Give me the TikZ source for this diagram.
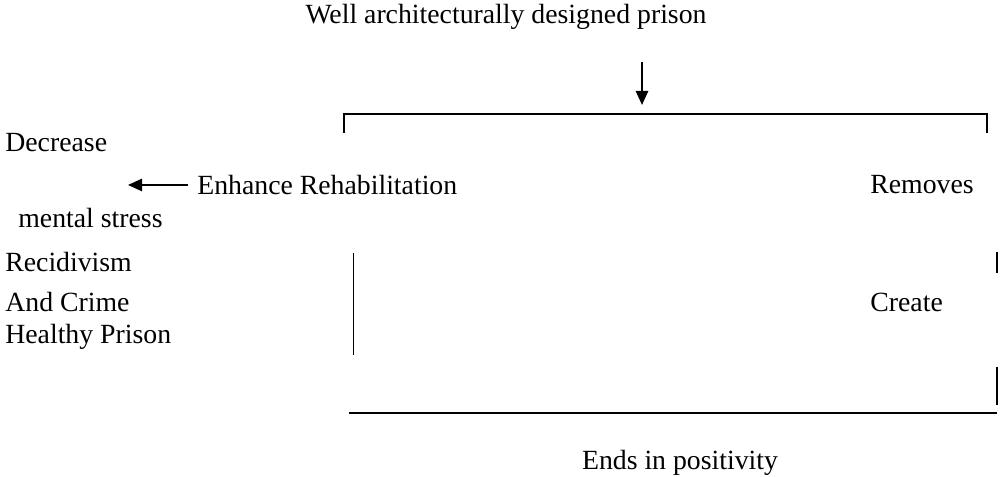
\documentclass[tikz,border=0pt]{standalone}
\usepackage{fontspec}
\setmainfont{Liberation Serif}
\usetikzlibrary{arrows.meta}
\begin{document}
\begin{tikzpicture}[
  lbl/.style={font=\fontsize{15.8}{18}\selectfont,inner sep=0pt},
  rule/.style={line width=1.1pt},
  arr/.style={line width=1.1pt,-{Triangle[length=8pt,width=7pt]}}
]
\useasboundingbox (0,0) rectangle (20,9.54);

% Title and arrow into the bracket
\node[lbl] (title) at (10.12,9.2) {Well architecturally designed prison};
\coordinate (downtail) at (12.84,8.3);
\coordinate (downtip) at (12.84,7.44);
\draw[arr] (downtail) -- (downtip);

% Top bracket
\draw[rule] (6.88,6.88) -- (6.88,7.26) -- (19.74,7.26) -- (19.74,6.88);

% Left column
\node[lbl,anchor=west] (decr) at (0.1,6.68) {Decrease};
\node[lbl,anchor=west] (stress) at (0.36,5.18) {mental stress};
\node[lbl,anchor=west] (recid) at (0.1,4.3) {Recidivism};
\node[lbl,anchor=west] (crime) at (0.1,3.5) {And Crime};
\node[lbl,anchor=west] (healthy) at (0.1,2.8) {Healthy Prison};

% Enhance Rehabilitation with arrow to the left
\node[lbl,anchor=west] (enh) at (3.94,5.84) {Enhance Rehabilitation};
\coordinate (lefttip) at (2.56,5.84);
\draw[arr] ([xshift=-0.18cm]enh.west) -- (lefttip);

% Right column
\node[lbl,anchor=west] (removes) at (17.4,5.84) {Removes};
\node[lbl,anchor=west] (create) at (17.4,3.5) {Create};

% Vertical strokes
\draw[rule] (7.07,4.48) -- (7.07,2.44);
\draw[rule] (19.94,4.5) -- (19.94,4.08);
\draw[rule] (19.94,2.2) -- (19.94,1.44);

% Bottom line
\draw[rule] (6.98,1.28) -- (19.94,1.28);
\node[lbl] (ends) at (13.6,0.28) {Ends in positivity};
\end{tikzpicture}
\end{document}
